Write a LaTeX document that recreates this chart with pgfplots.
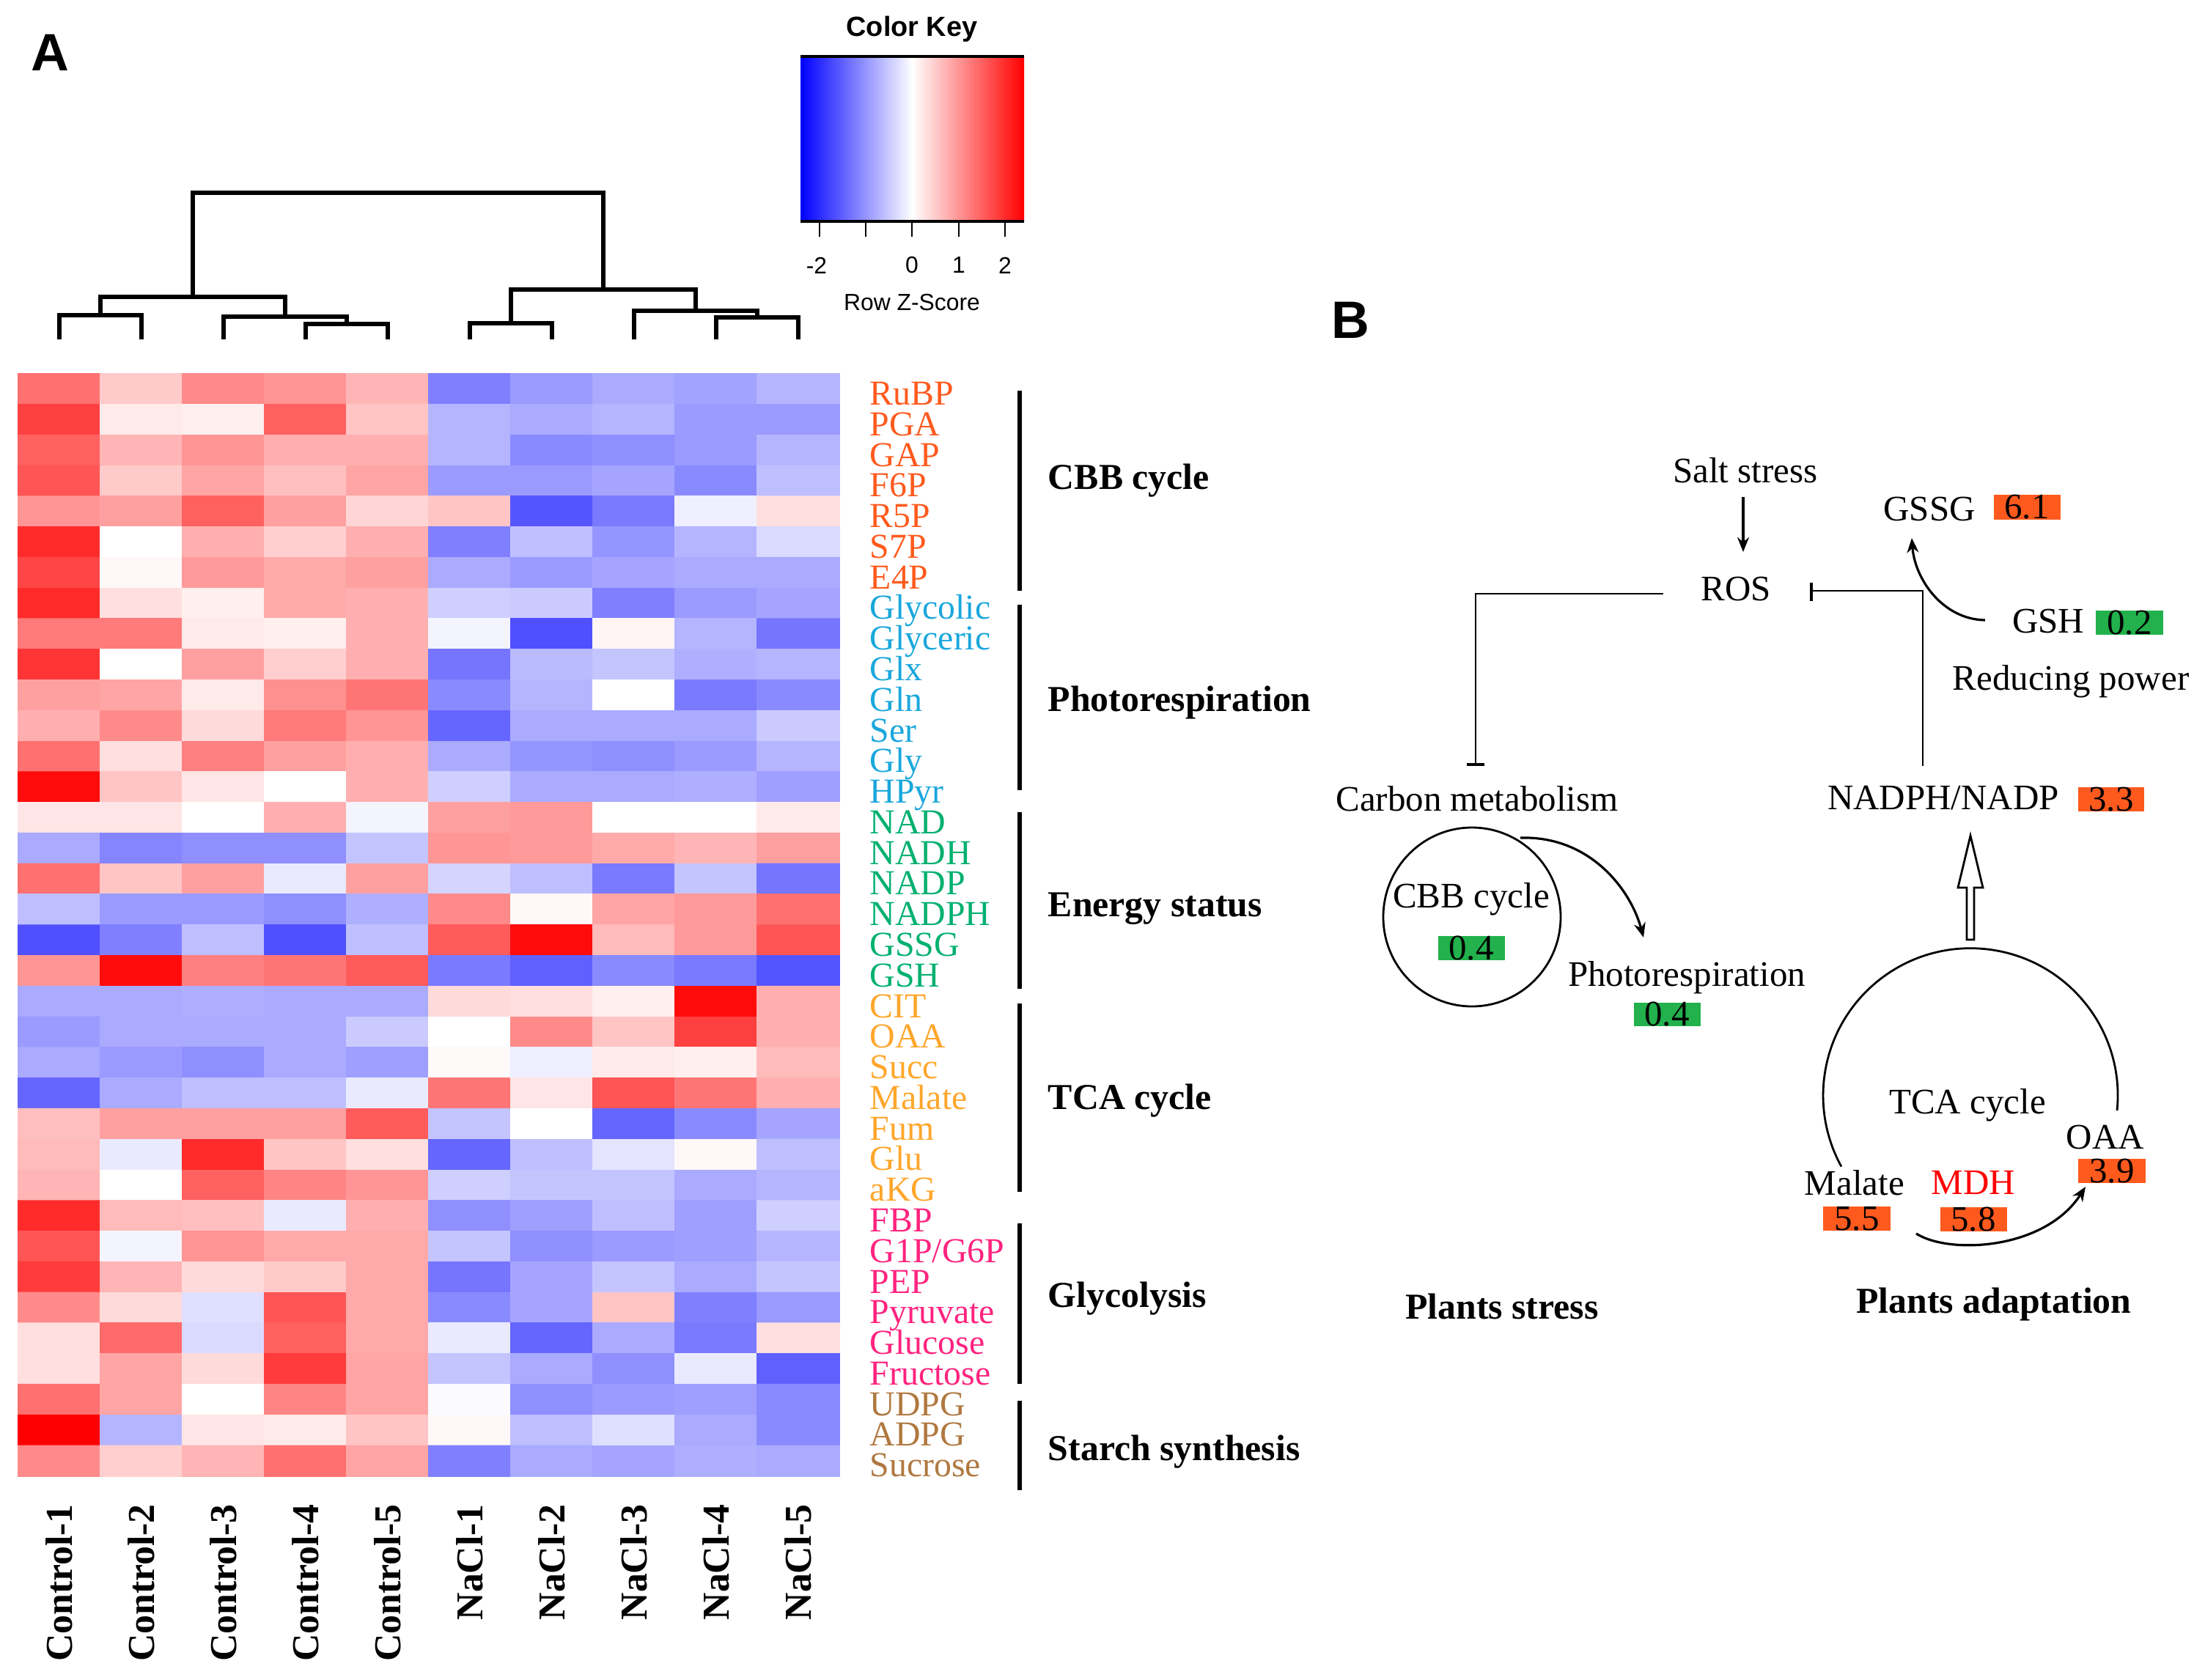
\documentclass[border=0pt]{standalone}
\usepackage{pgfplots}
\pgfplotsset{compat=1.18}
\usepackage{fontspec}
\setmainfont{Liberation Serif}
\newfontfamily\sansf{Liberation Sans}
\usetikzlibrary{arrows.meta}
\newcommand\fs[1]{\fontsize{#1}{#1}\selectfont}
\definecolor{cbb}{RGB}{255,90,30}
\definecolor{pho}{RGB}{26,167,220}
\definecolor{ene}{RGB}{0,176,112}
\definecolor{tca}{RGB}{255,166,43}
\definecolor{gly}{RGB}{255,35,127}
\definecolor{sta}{RGB}{176,120,64}
\definecolor{obox}{RGB}{255,90,30}
\definecolor{gbox}{RGB}{34,177,76}
\begin{document}
\begin{tikzpicture}
\path[use as bounding box] (0,0) rectangle (752bp,573bp);
\begin{axis}[at={(0,0)}, anchor=south west, width=752bp, height=573bp, scale only axis,
  xmin=0, xmax=3008, ymin=0, ymax=2292, y dir=reverse, hide axis, clip=false,
  colormap={bwr}{rgb255=(0,0,255) rgb255=(255,255,255) rgb255=(255,0,0)},
  point meta min=-2.4, point meta max=2.4]
% heatmap: 36 metabolites x 10 samples (row Z-scores)
\addplot[matrix plot*, mesh/cols=10, point meta=explicit]
 table[header=false, row sep=\\,
   x expr={81+112*(\coordindex-10*floor((\coordindex+0.5)/10))},
   y expr={530.9+41.78*floor((\coordindex+0.5)/10)}, meta index=0] {
1.35\\0.5\\1.1\\1.0\\0.7\\-1.2\\-0.95\\-0.8\\-0.87\\-0.7\\
1.8\\0.2\\0.15\\1.5\\0.55\\-0.7\\-0.8\\-0.7\\-0.95\\-0.95\\
1.5\\0.7\\1.0\\0.75\\0.75\\-0.7\\-1.1\\-1.05\\-0.95\\-0.7\\
1.6\\0.5\\0.85\\0.6\\0.85\\-0.95\\-0.95\\-0.85\\-1.1\\-0.6\\
1.0\\0.9\\1.5\\0.9\\0.4\\0.55\\-1.6\\-1.25\\-0.15\\0.3\\
2.0\\0.0\\0.75\\0.45\\0.75\\-1.2\\-0.6\\-1.0\\-0.7\\-0.35\\
1.75\\0.07\\0.95\\0.8\\0.9\\-0.8\\-0.95\\-0.85\\-0.8\\-0.8\\
2.0\\0.3\\0.15\\0.8\\0.75\\-0.45\\-0.5\\-1.2\\-0.95\\-0.85\\
1.25\\1.25\\0.2\\0.15\\0.75\\-0.1\\-1.65\\0.1\\-0.7\\-1.3\\
1.9\\0.0\\0.9\\0.45\\0.75\\-1.3\\-0.65\\-0.55\\-0.75\\-0.7\\
0.9\\0.85\\0.2\\1.05\\1.3\\-1.1\\-0.7\\0.0\\-1.25\\-1.1\\
0.75\\1.1\\0.35\\1.25\\1.0\\-1.45\\-0.8\\-0.8\\-0.8\\-0.5\\
1.35\\0.3\\1.2\\0.9\\0.75\\-0.8\\-1.0\\-1.05\\-0.95\\-0.7\\
2.3\\0.55\\0.25\\0.0\\0.75\\-0.45\\-0.8\\-0.8\\-0.75\\-0.9\\
0.25\\0.25\\0.0\\0.75\\-0.1\\0.9\\0.95\\0.0\\0.0\\0.2\\
-0.8\\-1.15\\-1.05\\-1.05\\-0.55\\1.0\\0.95\\0.8\\0.7\\0.9\\
1.35\\0.55\\0.9\\-0.2\\0.9\\-0.4\\-0.6\\-1.25\\-0.55\\-1.3\\
-0.6\\-0.95\\-0.95\\-1.05\\-0.75\\1.1\\0.07\\0.85\\0.95\\1.35\\
-1.65\\-1.2\\-0.6\\-1.65\\-0.6\\1.55\\2.3\\0.65\\0.95\\1.6\\
1.0\\2.3\\1.2\\1.3\\1.55\\-1.25\\-1.5\\-1.1\\-1.25\\-1.6\\
-0.8\\-0.8\\-0.75\\-0.8\\-0.8\\0.35\\0.3\\0.15\\2.3\\0.75\\
-0.95\\-0.8\\-0.8\\-0.8\\-0.5\\0.0\\1.1\\0.55\\1.8\\0.75\\
-0.8\\-0.95\\-1.05\\-0.8\\-0.9\\0.05\\-0.15\\0.2\\0.15\\0.65\\
-1.45\\-0.8\\-0.6\\-0.6\\-0.2\\1.3\\0.25\\1.6\\1.3\\0.75\\
0.6\\0.9\\0.9\\0.9\\1.55\\-0.55\\0.0\\-1.45\\-1.1\\-0.85\\
0.65\\-0.2\\2.0\\0.55\\0.3\\-1.45\\-0.6\\-0.25\\0.07\\-0.6\\
0.7\\0.0\\1.5\\1.15\\1.0\\-0.45\\-0.55\\-0.55\\-0.8\\-0.7\\
2.0\\0.65\\0.6\\-0.2\\0.75\\-1.05\\-0.9\\-0.6\\-0.9\\-0.45\\
1.6\\-0.1\\1.0\\0.8\\0.8\\-0.55\\-1.05\\-0.95\\-0.9\\-0.7\\
1.85\\0.7\\0.35\\0.5\\0.8\\-1.3\\-0.85\\-0.55\\-0.8\\-0.55\\
1.1\\0.35\\-0.3\\1.6\\0.8\\-1.1\\-0.85\\0.55\\-1.2\\-0.95\\
0.3\\1.4\\-0.35\\1.5\\0.8\\-0.2\\-1.45\\-0.8\\-1.25\\0.3\\
0.3\\0.85\\0.35\\1.85\\0.85\\-0.55\\-0.8\\-1.05\\-0.2\\-1.5\\
1.35\\0.85\\0.0\\1.15\\0.85\\-0.05\\-1.05\\-0.95\\-0.9\\-1.1\\
2.4\\-0.7\\0.25\\0.2\\0.55\\0.07\\-0.6\\-0.3\\-0.8\\-1.1\\
1.1\\0.45\\0.7\\1.35\\0.85\\-1.2\\-0.8\\-0.85\\-0.75\\-0.8\\
};
% dendrogram
\addplot[black, line width=1.6pt] coordinates {(81,463) (81,430) (193,430) (193,463)};
\addplot[black, line width=1.6pt] coordinates {(417,463) (417,442) (529,442) (529,463)};
\addplot[black, line width=1.6pt] coordinates {(305,463) (305,432) (473,432) (473,442)};
\addplot[black, line width=1.6pt] coordinates {(137,430) (137,405) (389,405) (389,432)};
\addplot[black, line width=1.6pt] coordinates {(641,463) (641,441) (753,441) (753,463)};
\addplot[black, line width=1.6pt] coordinates {(977,463) (977,433) (1089,433) (1089,463)};
\addplot[black, line width=1.6pt] coordinates {(865,463) (865,424) (1033,424) (1033,433)};
\addplot[black, line width=1.6pt] coordinates {(697,441) (697,395) (949,395) (949,424)};
\addplot[black, line width=1.6pt] coordinates {(263,405) (263,263) (823,263) (823,395)};
% panel labels
\node[font=\sansf\bfseries\fs{18}] at (68,72) {A};
\node[font=\sansf\bfseries\fs{18}] at (1842,437) {B};
% colour key
\shade[left color=blue, right color=red, middle color=white] (1092,77) rectangle (1397,302);
\draw[line width=0.8pt] (1092,77)--(1397,77);
\draw[line width=0.8pt] (1092,302)--(1397,302);
\draw[line width=0.5pt] (1118,302)--(1118,323) (1181,302)--(1181,323) (1244,302)--(1244,323) (1308,302)--(1308,323) (1371,302)--(1371,323);
\node[font=\sansf\fs{8}] at (1114,362) {-2};
\node[font=\sansf\fs{8}] at (1244,362) {0};
\node[font=\sansf\fs{8}] at (1308,362) {1};
\node[font=\sansf\fs{8}] at (1371,362) {2};
\node[font=\sansf\fs{8}] at (1244,413) {Row Z-Score};
\node[font=\sansf\bfseries\fs{9.5}] at (1244,40) {Color Key};
% column labels
\node[rotate=90, anchor=east, font=\bfseries\fs{13}] at (81,2038) {Control-1};
\node[rotate=90, anchor=east, font=\bfseries\fs{13}] at (193,2038) {Control-2};
\node[rotate=90, anchor=east, font=\bfseries\fs{13}] at (305,2038) {Control-3};
\node[rotate=90, anchor=east, font=\bfseries\fs{13}] at (417,2038) {Control-4};
\node[rotate=90, anchor=east, font=\bfseries\fs{13}] at (529,2038) {Control-5};
\node[rotate=90, anchor=east, font=\bfseries\fs{13}] at (641,2038) {NaCl-1};
\node[rotate=90, anchor=east, font=\bfseries\fs{13}] at (753,2038) {NaCl-2};
\node[rotate=90, anchor=east, font=\bfseries\fs{13}] at (865,2038) {NaCl-3};
\node[rotate=90, anchor=east, font=\bfseries\fs{13}] at (977,2038) {NaCl-4};
\node[rotate=90, anchor=east, font=\bfseries\fs{13}] at (1089,2038) {NaCl-5};
% row labels
\begin{scope}[every node/.style={anchor=base west, font=\fs{12}, inner sep=0pt}]
\node[text=cbb] at (1186,552) {RuBP};
\node[text=cbb] at (1186,594) {PGA};
\node[text=cbb] at (1186,636) {GAP};
\node[text=cbb] at (1186,677) {F6P};
\node[text=cbb] at (1186,719) {R5P};
\node[text=cbb] at (1186,761) {S7P};
\node[text=cbb] at (1186,803) {E4P};
\node[text=pho] at (1186,844) {Glycolic};
\node[text=pho] at (1186,886) {Glyceric};
\node[text=pho] at (1186,928) {Glx};
\node[text=pho] at (1186,970) {Gln};
\node[text=pho] at (1186,1012) {Ser};
\node[text=pho] at (1186,1053) {Gly};
\node[text=pho] at (1186,1095) {HPyr};
\node[text=ene] at (1186,1137) {NAD};
\node[text=ene] at (1186,1179) {NADH};
\node[text=ene] at (1186,1220) {NADP};
\node[text=ene] at (1186,1262) {NADPH};
\node[text=ene] at (1186,1304) {GSSG};
\node[text=ene] at (1186,1346) {GSH};
\node[text=tca] at (1186,1388) {CIT};
\node[text=tca] at (1186,1429) {OAA};
\node[text=tca] at (1186,1471) {Succ};
\node[text=tca] at (1186,1513) {Malate};
\node[text=tca] at (1186,1555) {Fum};
\node[text=tca] at (1186,1596) {Glu};
\node[text=tca] at (1186,1638) {aKG};
\node[text=gly] at (1186,1680) {FBP};
\node[text=gly] at (1186,1722) {G1P/G6P};
\node[text=gly] at (1186,1764) {PEP};
\node[text=gly] at (1186,1805) {Pyruvate};
\node[text=gly] at (1186,1847) {Glucose};
\node[text=gly] at (1186,1889) {Fructose};
\node[text=sta] at (1186,1931) {UDPG};
\node[text=sta] at (1186,1972) {ADPG};
\node[text=sta] at (1186,2014) {Sucrose};
\end{scope}
% group bars and names
\draw[line width=1.6pt] (1391,533)--(1391,806);
\draw[line width=1.6pt] (1391,825)--(1391,1078);
\draw[line width=1.6pt] (1391,1108)--(1391,1349);
\draw[line width=1.6pt] (1391,1369)--(1391,1626);
\draw[line width=1.6pt] (1391,1669)--(1391,1888);
\draw[line width=1.6pt] (1391,1911)--(1391,2033);
\begin{scope}[every node/.style={anchor=base west, font=\bfseries\fs{12.5}, inner sep=0pt}]
\node at (1429,667) {CBB cycle};
\node at (1429,970) {Photorespiration};
\node at (1429,1250) {Energy status};
\node at (1429,1513) {TCA cycle};
\node at (1429,1783) {Glycolysis};
\node at (1429,1992) {Starch synthesis};
\end{scope}
% panel B
\begin{scope}[every node/.style={font=\fs{12.3}}]
\node at (2381,642) {Salt stress};
\node at (2368,804) {ROS};
\node at (2632,695) {GSSG};
\node at (2794,848) {GSH};
\node at (2825,930) {Reducing power};
\node at (2015,1090) {Carbon metabolism};
\node at (2651,1089) {NADPH/NADP};
\node at (2007,1227) {CBB cycle};
\node at (2301,1334) {Photorespiration};
\node at (2684,1508) {TCA cycle};
\node at (2872,1551) {OAA};
\node at (2530,1614) {Malate};
\node[text=red] at (2692,1613) {MDH};
\node[font=\bfseries\fs{12.5}] at (2049,1782) {Plants stress};
\node[font=\bfseries\fs{12.5}] at (2720,1780) {Plants adaptation};
\fill[obox] (2720,675) rectangle (2811,709); \node[inner sep=0pt] at (2765,692) {6.1};
\fill[gbox] (2859,833) rectangle (2951,866); \node[inner sep=0pt] at (2905,850) {0.2};
\fill[obox] (2835,1074) rectangle (2925,1107); \node[inner sep=0pt] at (2880,1091) {3.3};
\fill[gbox] (1962,1277) rectangle (2053,1310); \node[inner sep=0pt] at (2007,1294) {0.4};
\fill[gbox] (2229,1368) rectangle (2320,1400); \node[inner sep=0pt] at (2274,1384) {0.4};
\fill[obox] (2835,1581) rectangle (2927,1614); \node[inner sep=0pt] at (2881,1598) {3.9};
\fill[obox] (2487,1646) rectangle (2579,1679); \node[inner sep=0pt] at (2533,1663) {5.5};
\fill[obox] (2647,1647) rectangle (2738,1680); \node[inner sep=0pt] at (2692,1664) {5.8};
\end{scope}
\draw[-{Stealth[length=5bp,width=4bp]}, line width=0.8pt] (2378,678)--(2378,753);
\draw[line width=0.6pt] (2269,810)--(2013,810)--(2013,1043);
\draw[line width=1.2pt] (2001,1043)--(2025,1043);
\draw[line width=0.6pt] (2623,1045)--(2623,806)--(2471,806);
\draw[line width=0.8pt] (2471,795)--(2471,820);
\draw[-{Stealth[length=5bp,width=4bp]}, line width=0.8pt] (2708,846) .. controls (2650,845) and (2612,790) .. (2608,734);
\draw[line width=0.7pt] (2008,1251) ellipse [x radius=30.25bp, y radius=30.5bp];
\draw[-{Stealth[length=5bp,width=4bp]}, line width=0.8pt] (2074,1143) .. controls (2170,1140) and (2225,1215) .. (2242,1279);
\draw[line width=0.7pt] (2888,1515) arc[start angle=-5.8, end angle=208.8, radius=50.25bp];
\draw[-{Stealth[length=5bp,width=4bp]}, line width=0.8pt] (2614,1683) .. controls (2660,1712) and (2790,1705) .. (2845,1619);
\draw[line width=0.7pt, fill=white] (2683,1282)--(2683,1211)--(2671,1211)--(2688,1140)--(2705,1211)--(2693,1211)--(2693,1282)--cycle;
\end{axis}
\end{tikzpicture}
\end{document}
